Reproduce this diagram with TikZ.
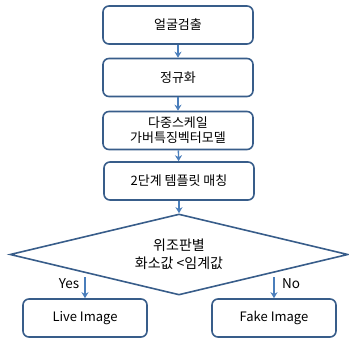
\documentclass[tikz,border=0pt]{standalone}
\usepackage{fontspec}
\setmainfont{Noto Sans CJK KR}
\usetikzlibrary{positioning,shapes.geometric,arrows.meta}
\definecolor{BoxLine}{RGB}{56,93,138}
\definecolor{FlowBlue}{RGB}{74,126,187}
\tikzset{
	stepbox/.style={draw=BoxLine,fill=white,rounded corners=6pt,line width=1.6pt,
		minimum width=150pt,minimum height=38pt,inner sep=2pt,align=center,
		font=\fontsize{13}{15}\selectfont},
	endbox/.style={stepbox,minimum width=124pt},
	decide/.style={diamond,draw=BoxLine,line width=1.6pt,shape aspect=4,inner sep=0pt,
		minimum width=338pt,minimum height=81pt,align=center,
		font=\fontsize{14}{18.5}\selectfont},
	flow/.style={draw=FlowBlue,line width=1.4pt,-{Stealth[length=6pt,width=7pt]}},
}

\begin{document}
\begin{tikzpicture}[x=1pt,y=-1pt]
	\useasboundingbox (0,0) rectangle (349,341);
	\node[stepbox] (detect) at (178,25) {얼굴검출};
	\node[stepbox] (norm) at (178,77.5) {정규화};
	\node[stepbox] (gabor) at (178,130.5) {다중스케일\\가버특징벡터모델};
	\node[stepbox] (match) at (179,181) {2단계 템플릿 매칭};
	\node[decide] (judge) at (179,254.5) {위조판별\\화소값 <임계값};
	\node[endbox] (live) at (85,318) {Live Image};
	\node[endbox] (fake) at (274,318) {Fake Image};
	\coordinate (yesfrom) at (85,277);
	\coordinate (nofrom) at (274,277);
	\draw[flow] (detect) -- (norm);
	\draw[flow] (norm) -- (gabor);
	\draw[flow] (gabor) -- (match);
	\draw[flow] (match) -- (judge);
	\draw[flow] (yesfrom) -- (live);
	\draw[flow] (nofrom) -- (fake);
	\node[font=\fontsize{13.5}{15}\selectfont] (yes) at (69,284) {Yes};
	\node[font=\fontsize{13.5}{15}\selectfont] (no) at (291,284) {No};
\end{tikzpicture}
\end{document}
